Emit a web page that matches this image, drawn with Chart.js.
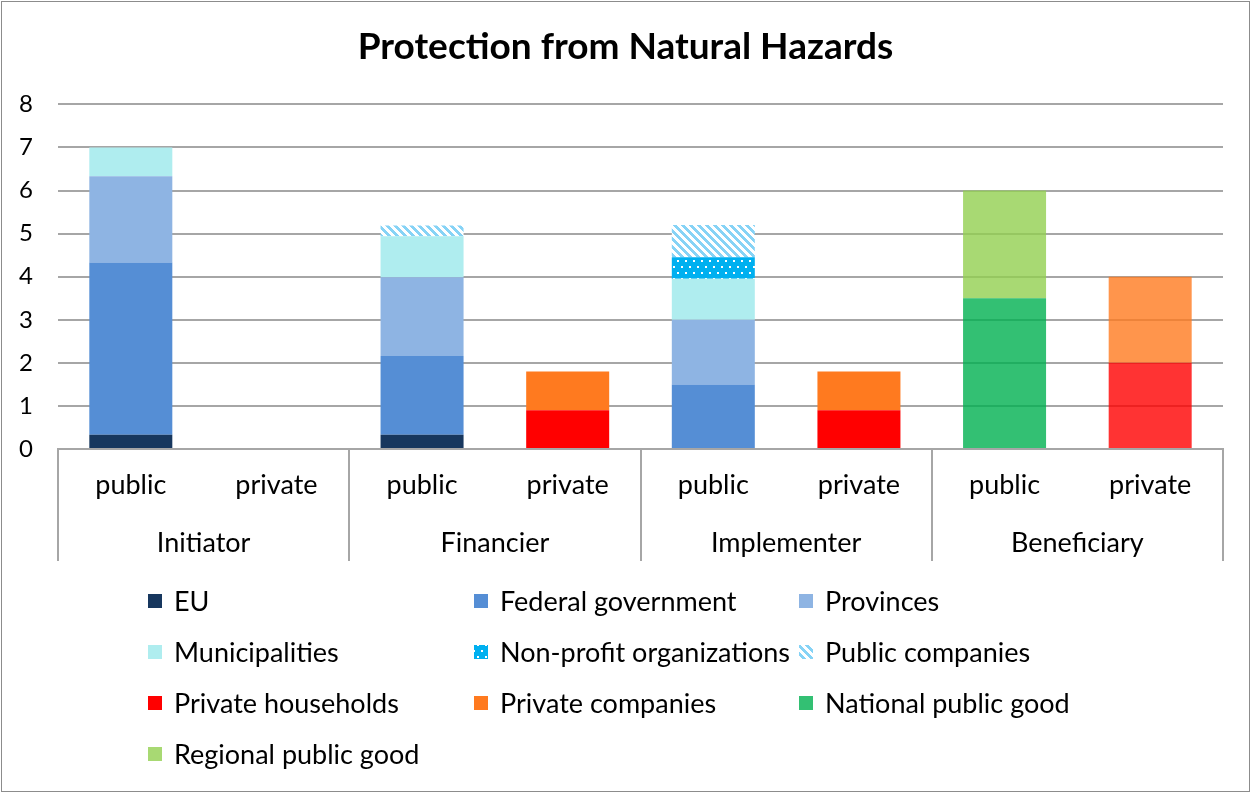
<!DOCTYPE html>
<html>
<head>
<meta charset="utf-8">
<script src="https://cdn.jsdelivr.net/npm/chart.js@4/dist/chart.umd.min.js"></script>
<style>
  html, body { margin: 0; padding: 0; background: #fff; }
  #wrap { width: 1251px; height: 793px; }
</style>
</head>
<body>
<div id="wrap"><canvas id="hazardChart" width="1251" height="793"></canvas></div>
<script>
// x categories and their groups
const categories = ['public', 'private', 'public', 'private', 'public', 'private', 'public', 'private'];
const groups = ['Initiator', 'Financier', 'Implementer', 'Beneficiary'];
const yTicks = [0, 1, 2, 3, 4, 5, 6, 7, 8];

// stacked series, bottom to top
const euValues           = [0.33, 0, 0.33, 0,   0,    0,   0,   0];
const federalValues      = [4,    0, 1.83, 0,   1.5,  0,   0,   0];
const provinceValues     = [2,    0, 1.83, 0,   1.5,  0,   0,   0];
const municipalityValues = [0.67, 0, 0.95, 0,   0.95, 0,   0,   0];
const nonProfitValues    = [0,    0, 0,    0,   0.5,  0,   0,   0];
const publicCompValues   = [0,    0, 0.25, 0,   0.75, 0,   0,   0];
const householdValues    = [0,    0, 0,    0.9, 0,    0.9, 0,   2];
const privateCompValues  = [0,    0, 0,    0.9, 0,    0.9, 0,   2];
const nationalValues     = [0,    0, 0,    0,   0,    0,   3.5, 0];
const regionalValues     = [0,    0, 0,    0,   0,    0,   2.5, 0];

const FONT = 'Lato, "Open Sans", sans-serif';
const LABEL_SIZE = 27;

function makePattern(w, h, painter) {
  const c = document.createElement('canvas');
  c.width = w; c.height = h;
  const g = c.getContext('2d');
  painter(g);
  return document.getElementById('hazardChart').getContext('2d').createPattern(c, 'repeat');
}

// blue with white dots
const dotPattern = makePattern(8, 12, g => {
  g.fillStyle = '#00b0f0';
  g.fillRect(0, 0, 8, 12);
  g.fillStyle = '#ffffff';
  g.fillRect(1, 2, 2, 2);
  g.fillRect(5, 8, 2, 2);
});

// light blue diagonal stripes
const stripePattern = makePattern(8, 8, g => {
  g.fillStyle = '#ffffff';
  g.fillRect(0, 0, 8, 8);
  g.fillStyle = '#86d3f6';
  for (let y = 0; y < 8; y++) {
    for (let x = 0; x < 8; x++) {
      if (((x - y) % 8 + 8) % 8 < 4) g.fillRect(x, y, 1, 1);
    }
  }
});

const redShades = categories.map((_, i) => i === 7 ? 'rgba(255,0,0,0.8)' : '#ff0000');
const orangeShades = categories.map((_, i) => i === 7 ? 'rgba(255,122,31,0.8)' : '#ff7a1f');

const datasets = [
  { label: 'EU', data: euValues, backgroundColor: '#17375e' },
  { label: 'Federal government', data: federalValues, backgroundColor: '#558ed5' },
  { label: 'Provinces', data: provinceValues, backgroundColor: '#8eb4e3' },
  { label: 'Municipalities', data: municipalityValues, backgroundColor: '#afedef' },
  { label: 'Non-profit organizations', data: nonProfitValues, backgroundColor: dotPattern },
  { label: 'Public companies', data: publicCompValues, backgroundColor: stripePattern },
  { label: 'Private households', data: householdValues, backgroundColor: redShades },
  { label: 'Private companies', data: privateCompValues, backgroundColor: orangeShades },
  { label: 'National public good', data: nationalValues, backgroundColor: 'rgba(0,176,80,0.8)' },
  { label: 'Regional public good', data: regionalValues, backgroundColor: 'rgba(146,208,80,0.8)' }
];

// white page with thin grey frame
const frame = {
  id: 'frame',
  beforeDraw(chart) {
    const ctx = chart.ctx;
    ctx.save();
    ctx.fillStyle = '#fff';
    ctx.fillRect(0, 0, chart.width, chart.height);
    ctx.strokeStyle = '#8c8c8c';
    ctx.lineWidth = 1;
    ctx.strokeRect(1.5, 1.5, chart.width - 3, chart.height - 3);
    ctx.restore();
  }
};

// group labels under the public/private ticks, with separators
const groupAxis = {
  id: 'groupAxis',
  afterDraw(chart) {
    const ctx = chart.ctx;
    const x = chart.scales.x;
    const area = chart.chartArea;
    const step = (x.right - x.left) / categories.length;
    ctx.save();
    ctx.strokeStyle = '#a6a6a6';
    ctx.lineWidth = 2;
    for (let g = 0; g <= groups.length; g++) {
      const px = Math.round(x.left + g * 2 * step);
      ctx.beginPath();
      ctx.moveTo(px, area.bottom);
      ctx.lineTo(px, area.bottom + 112);
      ctx.stroke();
    }
    ctx.fillStyle = '#000';
    ctx.font = LABEL_SIZE + 'px ' + FONT;
    ctx.textAlign = 'center';
    ctx.textBaseline = 'middle';
    groups.forEach((name, g) => {
      const cx = (x.getPixelForValue(2 * g) + x.getPixelForValue(2 * g + 1)) / 2;
      ctx.fillText(name, cx, area.bottom + 94);
    });
    ctx.restore();
  }
};

// three-column legend below the axis
const tableLegend = {
  id: 'tableLegend',
  afterDraw(chart) {
    const ctx = chart.ctx;
    const area = chart.chartArea;
    const colX = [90, 416, 741];
    ctx.save();
    ctx.font = LABEL_SIZE + 'px ' + FONT;
    ctx.textBaseline = 'middle';
    ctx.textAlign = 'left';
    chart.data.datasets.forEach((ds, i) => {
      const col = i % 3;
      const row = Math.floor(i / 3);
      const bx = area.left + colX[col];
      const cy = area.bottom + 152 + row * 51;
      const fill = Array.isArray(ds.backgroundColor) ? ds.backgroundColor[0] : ds.backgroundColor;
      ctx.fillStyle = fill;
      ctx.fillRect(bx, cy - 7, 14, 14);
      ctx.fillStyle = '#000';
      ctx.fillText(ds.label, bx + 26, cy + 1);
    });
    ctx.restore();
  }
};

new Chart(document.getElementById('hazardChart'), {
  type: 'bar',
  data: { labels: categories, datasets },
  plugins: [frame, groupAxis, tableLegend],
  options: {
    responsive: false,
    animation: false,
    layout: { padding: { left: 14, right: 14, top: 0, bottom: 232 } },
    datasets: {
      bar: { categoryPercentage: 1, barPercentage: 0.57, borderWidth: 0 }
    },
    plugins: {
      legend: { display: false },
      tooltip: { enabled: false },
      title: {
        display: true,
        text: 'Protection from Natural Hazards',
        color: '#000',
        font: { family: FONT, size: 37, weight: 'bold' },
        padding: { top: 25, bottom: 35 }
      }
    },
    scales: {
      x: {
        stacked: true,
        grid: { display: false },
        border: { display: true, color: '#a6a6a6', width: 2 },
        ticks: { color: '#000', font: { family: FONT, size: LABEL_SIZE }, padding: 12, maxRotation: 0, autoSkip: false },
        afterFit(scale) { scale.height = 112; }
      },
      y: {
        stacked: true,
        min: yTicks[0],
        max: yTicks[yTicks.length - 1],
        afterBuildTicks(scale) { scale.ticks = yTicks.map(v => ({ value: v })); },
        grid: { color: '#a6a6a6', lineWidth: 2, drawTicks: false },
        border: { display: false },
        ticks: { color: '#000', font: { family: FONT, size: 24 }, padding: 25 },
        afterFit(scale) { scale.width = 44; }
      },
      // empty margin on the right side of the plot
      yMargin: {
        position: 'right',
        display: true,
        grid: { display: false },
        border: { display: false },
        ticks: { display: false },
        afterFit(scale) { scale.width = 14; }
      }
    }
  }
});
</script>
</body>
</html>
